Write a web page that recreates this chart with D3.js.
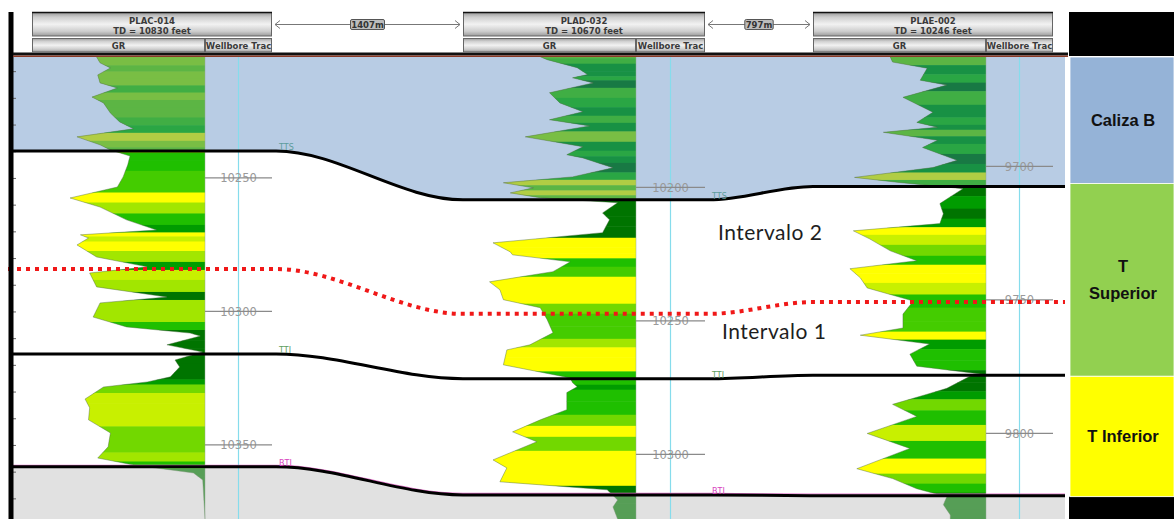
<!DOCTYPE html>
<html><head><meta charset="utf-8">
<script src="https://cdn.jsdelivr.net/npm/d3@7"></script>
<style>
html,body{margin:0;padding:0;background:#fff;}
svg{display:block;}
</style></head>
<body>
<svg id="chart" width="1174" height="519"></svg>
<script>
// ---- Well headers ----
const wellNames = ["PLAC-014", "PLAD-032", "PLAE-002"];
const wellTD = [10830, 10670, 10246];
const wellSpacing = ["1407m", "797m"];
const depthTicks = [[10250, 10300, 10350], [10200, 10250, 10300], [9700, 9750, 9800]];

// ---- Gamma ray logs: measured depth (ft) and GR (API) ----
const grDepth1 = [10204.7,10206.9,10208.8,10211.4,10214.4,10216.3,10219.7,10221.9,10225.7,10229.0,10231.6,10234.6,10237.6,10239.5,10241.8,10245.1,10249.6,10253.4,10257.5,10260.9,10265.7,10269.5,10271.3,10272.5,10275.1,10279.6,10283.3,10285.6,10290.8,10294.6,10296.8,10302.1,10305.8,10308.1,10309.2,10312.5,10315.2,10318.2,10320.8,10324.5,10326.4,10328.3,10332.8,10336.1,10340.6,10345.5,10350.7,10354.9,10357.5,10360.5,10363.1,10377.7];
const grValue1 = [56,59,68,57,59,74,52,62,68,76,88,39,59,68,85,83,79,74,33,59,82,108,42,49,39,56,100,50,56,117,59,53,82,137,146,117,148,124,128,120,100,62,46,50,49,68,66,57,88,140,148,150];

const grDepth2 = [10151.1,10152.2,10155.2,10157.8,10159.0,10160.9,10164.6,10168.4,10171.7,10174.7,10177.0,10181.1,10184.8,10187.8,10189.0,10192.7,10196.1,10198.3,10200.2,10202.1,10203.9,10205.8,10209.6,10212.2,10217.0,10220.8,10224.2,10225.3,10227.9,10231.6,10235.4,10238.4,10242.1,10245.1,10249.6,10254.5,10259.0,10260.9,10266.5,10271.4,10273.2,10274.7,10276.9,10283.3,10287.1,10291.6,10295.3,10302.1,10305.1,10310.3,10313.3,10317.1,10319.7,10324.2];
const grValue2 = [67,73,99,108,95,113,75,84,104,75,110,54,104,90,104,130,95,35,61,41,67,134,121,127,121,26,41,43,93,78,23,32,35,67,73,78,58,38,35,93,95,99,90,90,67,43,64,26,38,32,125,134,130,134];

const grDepth3 = [9659.0,9660.9,9663.2,9667.7,9669.5,9674.1,9679.7,9683.5,9685.3,9687.2,9690.2,9692.9,9697.7,9700.4,9704.1,9706.0,9708.3,9713.9,9717.7,9721.4,9724.1,9727.1,9731.6,9735.3,9738.3,9741.7,9745.5,9750.4,9755.3,9760.5,9763.2,9766.5,9770.3,9774.8,9777.8,9778.6,9783.1,9785.3,9789.1,9793.6,9800.0,9805.6,9813.2,9816.9,9820.7,9823.7,9826.7,9830.5,9832.7];
const grValue3 = [67,69,99,93,116,78,104,90,108,61,108,95,125,104,36,75,130,110,113,110,35,49,67,90,32,41,47,87,78,78,41,101,84,90,147,136,116,99,69,90,47,84,38,69,90,116,113,119,119];

// ---- Correlated tops (ft MD), one value per well ----
const topTTS = [10239.9, 10204.7, 9707.5];
const topIntervalo = [10284.1, 10247.4, 9750.8];
const topTTI = [10315.9, 10271.7, 9778.2];
const topBTI = [10358.2, 10315.2, 9823.3];
const intervalLabels = ["Intervalo 2", "Intervalo 1"];
const stratUnits = ["Caliza B", "T Superior", "T Inferior"];

// ---- Layout ----
const svg = d3.select("#chart");
const panel = {left: 13, right: 1065, top: 57, bottom: 519};
const pxPerFt = 2.67;
const wells = [
  {gr: [32, 205], wb: [205, 272], viewTop: 10204.7},
  {gr: [463, 636], wb: [636, 705], viewTop: 10151.2},
  {gr: [813, 986], wb: [986, 1053], viewTop: 9659.0}
];
wells.forEach(w => {
  w.y = d3.scaleLinear()
    .domain([w.viewTop, w.viewTop + (panel.bottom - panel.top) / pxPerFt])
    .range([panel.top, panel.bottom]);
  w.x = d3.scaleLinear().domain([0, 150]).range(w.gr);
});
const grDepths = [grDepth1, grDepth2, grDepth3];
const grValues = [grValue1, grValue2, grValue3];

const grColor = d3.scaleThreshold()
  .domain([44, 52, 60, 70, 82, 96, 112])
  .range(['#ffff00', '#c8f000', '#a2e600', '#72d800', '#44cc00', '#1fbf00', '#009c00', '#007400']);

const defs = svg.append("defs");
const hg = defs.append("linearGradient").attr("id", "hdrGrad")
  .attr("x1", 0).attr("y1", 0).attr("x2", 0).attr("y2", 1);
[[0, '#9a9a9a'], [0.2, '#cfcfcf'], [0.5, '#f2f2f2'], [0.8, '#cdcdcd'], [1, '#9a9a9a']]
  .forEach(([o, c]) => hg.append("stop").attr("offset", o).attr("stop-color", c));

// horizon geometry: flat across each well column, smooth between wells
function horizonPoints(tops, extendLeft = 0) {
  const pts = [];
  wells.forEach((w, i) => {
    const yy = w.y(tops[i]);
    const x0 = i === 0 ? panel.left - extendLeft : w.gr[0];
    const x1 = i === wells.length - 1 ? panel.right : w.wb[1] + 4;
    pts.push([x0, yy], [x1, yy]);
  });
  return pts;
}
const hLine = d3.line().curve(d3.curveMonotoneX);
const ptsTTS = horizonPoints(topTTS);
const ptsTTI = horizonPoints(topTTI);
const ptsBTI = horizonPoints(topBTI);
const ptsInt = horizonPoints(topIntervalo, 5);

const zoneTop = d3.area().curve(d3.curveMonotoneX).x(d => d[0]).y0(panel.top).y1(d => d[1]);
const zoneBottom = d3.area().curve(d3.curveMonotoneX).x(d => d[0]).y0(d => d[1]).y1(panel.bottom);

// ---- Zone backgrounds ----
svg.append("path").attr("d", zoneTop(ptsTTS)).attr("fill", "#b8cce4");
svg.append("path").attr("d", zoneBottom(ptsBTI)).attr("fill", "#e1e1e1");

// ---- GR tracks ----
wells.forEach((w, i) => {
  const data = grDepths[i].map((d, k) => ({d, gr: grValues[i][k]}));
  const area = d3.area().y(p => w.y(p.d)).x0(w.gr[1]).x1(p => w.x(p.gr));
  defs.append("clipPath").attr("id", "grclip" + i).append("path").attr("d", area(data));
  const g = svg.append("g").attr("clip-path", `url(#grclip${i})`);
  g.selectAll("rect").data(data).join("rect")
    .attr("x", w.gr[0])
    .attr("width", w.gr[1] - w.gr[0])
    .attr("y", (p, k) => w.y(k === 0 ? p.d : (p.d + data[k - 1].d) / 2))
    .attr("height", (p, k) => {
      const a = k === 0 ? p.d : (p.d + data[k - 1].d) / 2;
      const b = k === data.length - 1 ? p.d : (p.d + data[k + 1].d) / 2;
      return Math.max(0, w.y(b) - w.y(a)) + 0.5;
    })
    .attr("fill", p => grColor(p.gr));
  // Caliza B shading dims the log colours inside the limestone
  g.append("path").attr("d", zoneTop(ptsTTS)).attr("fill", "#3c82aa").attr("fill-opacity", 0.4);
  svg.append("path")
    .attr("d", d3.line().x(p => w.x(p.gr)).y(p => w.y(p.d))(data))
    .attr("fill", "none").attr("stroke", "#4d6b45").attr("stroke-width", 0.8).attr("stroke-opacity", 0.55);
});

// translucent shading of the lower zone over the logs
svg.append("path").attr("d", zoneBottom(ptsBTI)).attr("fill", "#e1e1e1").attr("fill-opacity", 0.38);

// ---- Wellbore tracks and depth labels ----
wells.forEach((w, i) => {
  const mid = (w.wb[0] + w.wb[1]) / 2;
  svg.append("line").attr("x1", w.gr[1]).attr("x2", w.gr[1])
    .attr("y1", panel.top).attr("y2", panel.bottom)
    .attr("stroke", "#8fa88f").attr("stroke-width", 0.8).attr("stroke-opacity", 0.6);
  svg.append("line").attr("x1", mid).attr("x2", mid)
    .attr("y1", panel.top).attr("y2", panel.bottom)
    .attr("stroke", "#86dcec").attr("stroke-width", 1.2);
  const tg = svg.append("g");
  depthTicks[i].forEach(t => {
    const yy = w.y(t);
    tg.append("text").attr("x", mid).attr("y", yy + 4.5).attr("text-anchor", "middle")
      .attr("font-family", "DejaVu Sans").attr("font-size", 11.5).attr("fill", "#9a9a9a").text(t);
    tg.append("line").attr("x1", w.wb[0]).attr("x2", w.wb[1]).attr("y1", yy).attr("y2", yy)
      .attr("stroke", "#8a8a8a").attr("stroke-width", 1.2);
  });
});

// depth ticks along the left margin (every 10 ft of the first well)
svg.append("g").attr("transform", `translate(${panel.left},0)`)
  .call(d3.axisRight(wells[0].y).tickValues(d3.range(10210, 10380, 10)).tickSize(3).tickFormat(""))
  .call(g => g.select(".domain").remove())
  .call(g => g.selectAll("line").attr("stroke", "#666"));

// ---- Horizons ----
svg.append("path").attr("d", hLine(ptsBTI.map(p => [p[0], p[1] - 1.5])))
  .attr("fill", "none").attr("stroke", "#e070c8").attr("stroke-width", 1.2);
[ptsTTS, ptsTTI, ptsBTI].forEach(p => {
  svg.append("path").attr("d", hLine(p)).attr("fill", "none")
    .attr("stroke", "#000").attr("stroke-width", 3);
});
svg.append("path").attr("d", hLine(ptsInt)).attr("fill", "none")
  .attr("stroke", "#f01818").attr("stroke-width", 4).attr("stroke-dasharray", "4 5");

// marker names next to the first two wells
const markerDefs = [["TTS", topTTS, "#5e9c9c"], ["TTI", topTTI, "#5fa05f"], ["BTI", topBTI, "#d845c0"]];
[0, 1].forEach(i => {
  const w = wells[i];
  markerDefs.forEach(([name, tops, col]) => {
    svg.append("text").attr("x", w.wb[1] + 7).attr("y", w.y(tops[i]) - 1)
      .attr("font-family", "DejaVu Sans").attr("font-size", 8).attr("fill", col).text(name);
  });
});

// ---- Interval labels ----
svg.append("text").attr("x", 718).attr("y", 240).text(intervalLabels[0])
  .attr("font-family", "Lato").attr("font-size", 21).attr("letter-spacing", 0.5).attr("fill", "#1e1e1e");
svg.append("text").attr("x", 722).attr("y", 339).text(intervalLabels[1])
  .attr("font-family", "Lato").attr("font-size", 21).attr("letter-spacing", 0.5).attr("fill", "#1e1e1e");

// ---- Frame ----
svg.append("rect").attr("x", 8.5).attr("y", 12).attr("width", 5).attr("height", 507).attr("fill", "#000");
svg.append("rect").attr("x", panel.left).attr("y", 52.5).attr("width", 1068 - panel.left).attr("height", 3).attr("fill", "#111");
svg.append("rect").attr("x", panel.left).attr("y", 55.5).attr("width", 1068 - panel.left).attr("height", 1.5).attr("fill", "#8a3a26");

// ---- Well headers ----
const hdrFont = "DejaVu Sans";
wells.forEach((w, i) => {
  const x0 = w.gr[0], x1 = w.wb[1];
  svg.append("rect").attr("x", x0 + 0.5).attr("y", 12.5).attr("width", x1 - x0 - 1).attr("height", 23.5)
    .attr("fill", "url(#hdrGrad)").attr("stroke", "#666");
  svg.append("line").attr("x1", x0).attr("x2", x1).attr("y1", 12.5).attr("y2", 12.5)
    .attr("stroke", "#111").attr("stroke-width", 1.5);
  svg.append("text").attr("x", (x0 + x1) / 2).attr("y", 23.5).attr("text-anchor", "middle")
    .attr("font-family", hdrFont).attr("font-weight", "bold").attr("font-size", 8.5).attr("fill", "#3a3a3a")
    .text(wellNames[i]);
  svg.append("text").attr("x", (x0 + x1) / 2).attr("y", 34).attr("text-anchor", "middle")
    .attr("font-family", hdrFont).attr("font-weight", "bold").attr("font-size", 8.5).attr("fill", "#3a3a3a")
    .text(`TD = ${wellTD[i]} feet`);
  [[w.gr, "GR"], [w.wb, "Wellbore Trac"]].forEach(([r, label]) => {
    svg.append("rect").attr("x", r[0] + 0.5).attr("y", 38.5).attr("width", r[1] - r[0] - 1).attr("height", 13.5)
      .attr("fill", "url(#hdrGrad)").attr("stroke", "#666");
    svg.append("text").attr("x", (r[0] + r[1]) / 2).attr("y", 48.5).attr("text-anchor", "middle")
      .attr("font-family", hdrFont).attr("font-weight", "bold").attr("font-size", 8.5).attr("fill", "#3a3a3a")
      .text(label);
  });
});

// distance arrows between wells
wellSpacing.forEach((label, i) => {
  const a = wells[i].wb[1] + 3, b = wells[i + 1].gr[0] - 3, yy = 24.5, mid = (a + b) / 2;
  const g = svg.append("g").attr("stroke", "#777").attr("fill", "none").attr("stroke-width", 1);
  g.append("line").attr("x1", a).attr("x2", b).attr("y1", yy).attr("y2", yy);
  g.append("path").attr("d", `M${a + 5},${yy - 4}L${a},${yy}L${a + 5},${yy + 4}`);
  g.append("path").attr("d", `M${b - 5},${yy - 4}L${b},${yy}L${b - 5},${yy + 4}`);
  const tw = label.length * 5.6 + 6;
  svg.append("rect").attr("x", mid - tw / 2).attr("y", 19.5).attr("width", tw).attr("height", 10)
    .attr("rx", 1.5).attr("fill", "#bdbdbd").attr("stroke", "#555");
  svg.append("text").attr("x", mid).attr("y", 27.6).attr("text-anchor", "middle")
    .attr("font-family", hdrFont).attr("font-weight", "bold").attr("font-size", 8.5).attr("fill", "#333")
    .text(label);
});

// ---- Stratigraphic column ----
const colX = 1070, colW = 1174 - 1070;
const w3 = wells[2];
const bounds = [panel.top, w3.y(topTTS[2]) - 3, w3.y(topTTI[2]) + 1, w3.y(topBTI[2]) + 1];
const unitFill = ["#95b3d7", "#92d050", "#ffff00"];
svg.append("rect").attr("x", colX - 1).attr("y", 12).attr("width", colW + 1).attr("height", panel.top - 13).attr("fill", "#000");
svg.append("rect").attr("x", colX - 1).attr("y", bounds[3]).attr("width", colW + 1).attr("height", panel.bottom - bounds[3]).attr("fill", "#000");
stratUnits.forEach((u, i) => {
  svg.append("rect").attr("x", colX).attr("y", bounds[i]).attr("width", colW).attr("height", bounds[i + 1] - bounds[i])
    .attr("fill", unitFill[i]).attr("stroke", "#ffffff").attr("stroke-width", 0.8);
  const cy = (bounds[i] + bounds[i + 1]) / 2;
  const lines = u === "T Superior" ? ["T", "Superior"] : [u];
  lines.forEach((ln, k) => {
    svg.append("text").attr("x", colX + colW / 2 + 1).attr("y", cy + 6 + (k - (lines.length - 1) / 2) * 27)
      .attr("text-anchor", "middle").attr("font-family", "Liberation Sans").attr("font-weight", "bold")
      .attr("font-size", 16.5).attr("fill", "#111").text(ln);
  });
});
</script>
</body></html>
